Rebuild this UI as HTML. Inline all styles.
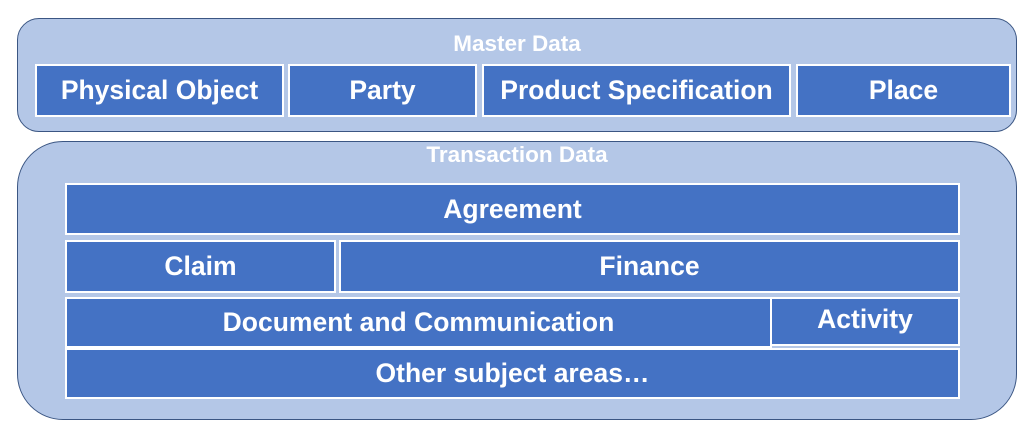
<!DOCTYPE html>
<html><head><style>
body{margin:0;width:1033px;height:436px;background:#fff;position:relative;overflow:hidden;font-family:"Liberation Sans",Arial,sans-serif;font-weight:bold;}
.o{position:absolute;background:#B4C7E7;border:1.5px solid #3B5683;box-sizing:border-box;}
.b{position:absolute;background:#4472C4;border:2.5px solid #fff;box-sizing:border-box;color:#fff;display:flex;align-items:center;justify-content:center;font-size:26.5px;}
.t{position:absolute;color:#fff;font-size:22.5px;text-align:center;width:100%;}
</style></head><body>
<div class="o" style="left:17px;top:18px;width:1000px;height:114px;border-radius:22px"></div>
<div class="t" style="left:17px;width:1000px;top:31px">Master Data</div>
<div class="b" style="left:35px;top:64px;width:249px;height:53px">Physical Object</div>
<div class="b" style="left:288px;top:64px;width:189px;height:53px">Party</div>
<div class="b" style="left:482px;top:64px;width:309px;height:53px">Product Specification</div>
<div class="b" style="left:796px;top:64px;width:215px;height:53px">Place</div>

<div class="o" style="left:17px;top:141px;width:1000px;height:279px;border-radius:46px"></div>
<div class="t" style="left:17px;width:1000px;top:142px">Transaction Data</div>
<div class="b" style="left:65px;top:183px;width:895px;height:52px">Agreement</div>
<div class="b" style="left:65px;top:240px;width:271px;height:53px">Claim</div>
<div class="b" style="left:339px;top:240px;width:621px;height:53px">Finance</div>
<div class="b" style="left:65px;top:297px;width:707px;height:51px">Document and Communication</div>
<div class="b" style="left:770px;top:297px;width:190px;height:49px;padding-bottom:4px">Activity</div>
<div class="b" style="left:65px;top:348px;width:895px;height:51px">Other subject areas…</div>
</body></html>
